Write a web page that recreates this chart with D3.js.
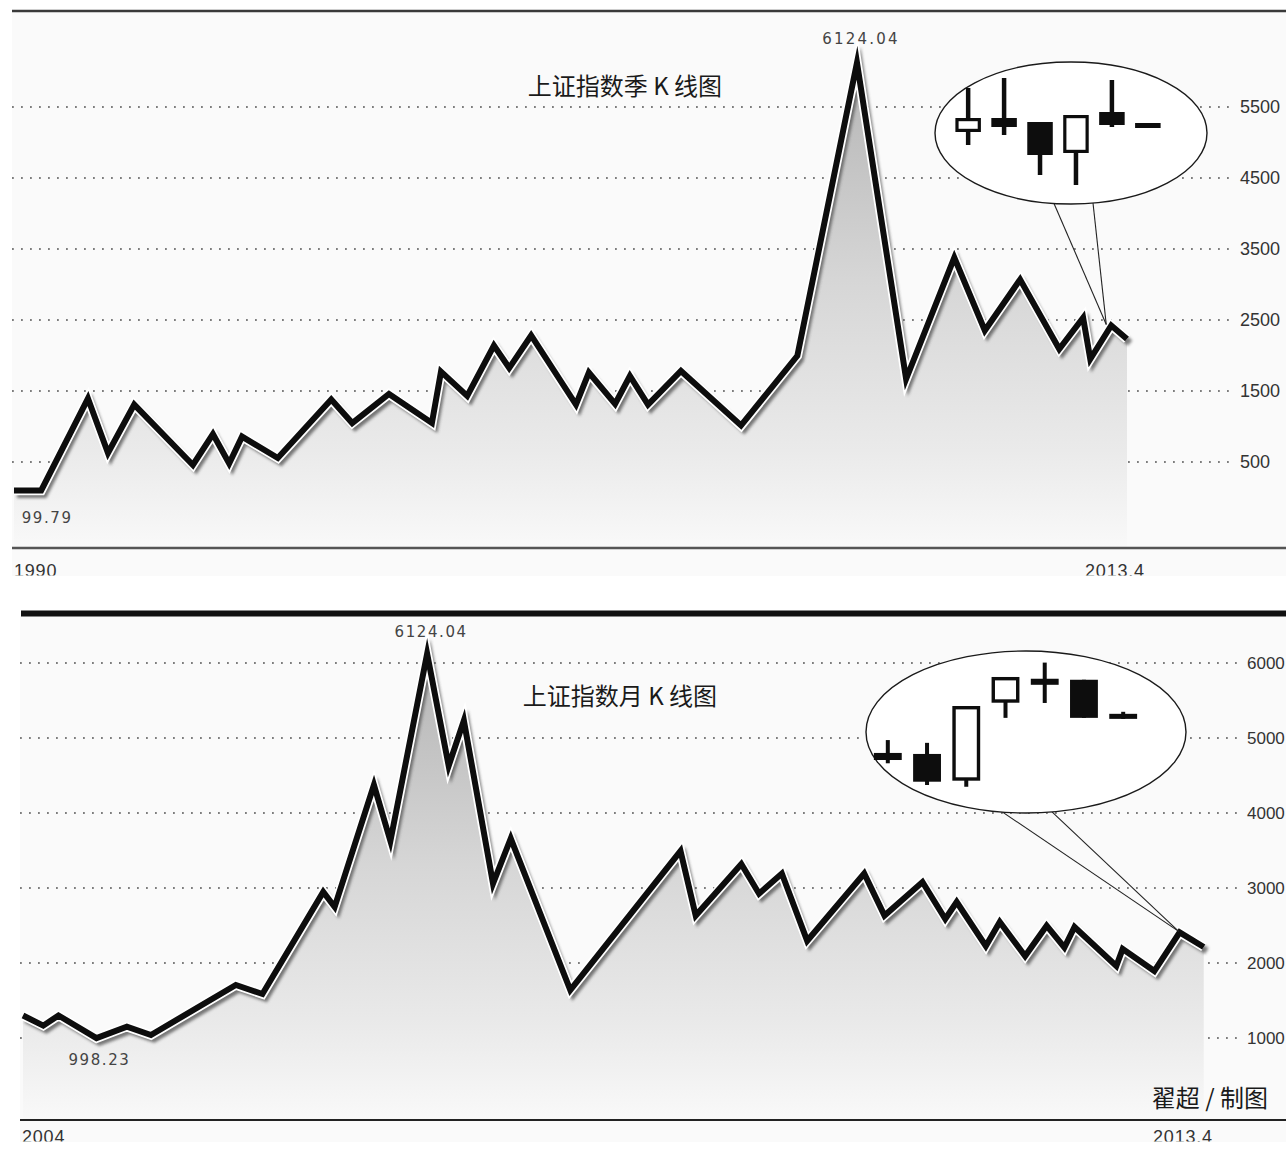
<!DOCTYPE html>
<html>
<head>
<meta charset="utf-8">
<script src="https://cdn.jsdelivr.net/npm/d3@7"></script>
<style>
  html, body { margin: 0; padding: 0; background: #ffffff; }
  svg { display: block; }
</style>
</head>
<body>
<svg id="chart" width="1286" height="1151"></svg>
<script>
// ---- Shanghai Composite, quarterly swing points (decimal year, index level) ----
const quarterYears = [1990.00, 1990.57, 1991.55, 1991.97, 1992.52, 1993.75, 1994.17, 1994.51, 1994.78, 1995.53,
                      1996.65, 1997.09, 1997.86, 1998.76, 1998.95, 1999.50, 2000.06, 2000.38, 2000.84, 2001.78,
                      2002.05, 2002.60, 2002.91, 2003.29, 2003.98, 2005.24, 2006.42, 2007.67, 2008.70, 2009.71,
                      2010.35, 2011.09, 2011.91, 2012.41, 2012.56, 2013.00, 2013.33];
const quarterClose = [100, 99.79, 1394, 627, 1308, 458, 894, 479, 858, 556,
                      1380, 1049, 1458, 1049, 1773, 1430, 2139, 1824, 2282, 1308,
                      1759, 1317, 1711, 1308, 1782, 1014, 1996, 6124.04, 1669, 3379,
                      2352, 3070, 2092, 2532, 1951, 2423, 2232];
const quarterTicks = [500, 1500, 2500, 3500, 4500, 5500];
const quarterAxisLabels = ["1990", "2013.4"];

// ---- Shanghai Composite, monthly swing points ----
const monthYears = [2004.00, 2004.16, 2004.28, 2004.58, 2004.82, 2005.01, 2005.68, 2005.89, 2006.37, 2006.46,
                    2006.77, 2006.90, 2007.19, 2007.36, 2007.48, 2007.71, 2007.85, 2008.32, 2009.19, 2009.31,
                    2009.67, 2009.81, 2009.99, 2010.19, 2010.64, 2010.80, 2011.10, 2011.28, 2011.37, 2011.60,
                    2011.71, 2011.91, 2012.08, 2012.22, 2012.30, 2012.63, 2012.68, 2012.93, 2013.13, 2013.32];
const monthClose = [1300, 1165, 1300, 998.23, 1151, 1040, 1707, 1587, 2947, 2747,
                    4373, 3627, 6124.04, 4629, 5232, 3059, 3660, 1640, 3493, 2632,
                    3320, 2924, 3193, 2296, 3193, 2632, 3080, 2587, 2813, 2227,
                    2547, 2093, 2497, 2207, 2480, 1960, 2187, 1893, 2408, 2213];
const monthTicks = [1000, 2000, 3000, 4000, 5000, 6000];
const monthAxisLabels = ["2004", "2013.4"];

// ---- Recent quarterly candles ----
const quarterCandleNames = ["2012Q1", "2012Q2", "2012Q3", "2012Q4", "2013Q1", "2013Q2"];
const quarterOpen  = [2190, 2260, 2240, 2085, 2290, 2235];
const quarterHigh  = [2410, 2460, 2240, 2275, 2450, 2235];
const quarterLow   = [2125, 2175, 1975, 1925, 2215, 2210];
const quarterShut  = [2260, 2215, 2075, 2275, 2225, 2210];

// ---- Recent monthly candles ----
const monthCandleNames = ["2012.10", "2012.11", "2012.12", "2013.01", "2013.02", "2013.03", "2013.04"];
const monthOpen  = [2083, 2079, 1973, 2282, 2377, 2373, 2238];
const monthHigh  = [2134, 2123, 2269, 2384, 2441, 2373, 2246];
const monthLow   = [2042, 1956, 1949, 2222, 2281, 2222, 2218];
const monthShut  = [2055, 1969, 2269, 2384, 2353, 2222, 2218];

const titles = ["上证指数季 K 线图", "上证指数月 K 线图"];
const credit = "翟超 / 制图";

const svg = d3.select("#chart");
const defs = svg.append("defs");

defs.append("filter").attr("id", "soft").attr("x", "-5%").attr("y", "-5%").attr("width", "110%").attr("height", "110%")
  .append("feGaussianBlur").attr("stdDeviation", 1.8);

function gradient(id, y1, y2) {
  const g = defs.append("linearGradient").attr("id", id)
    .attr("gradientUnits", "userSpaceOnUse")
    .attr("x1", 0).attr("x2", 0).attr("y1", y1).attr("y2", y2);
  g.append("stop").attr("offset", 0).attr("stop-color", "#b4b4b4");
  g.append("stop").attr("offset", 0.45).attr("stop-color", "#d6d6d6");
  g.append("stop").attr("offset", 0.8).attr("stop-color", "#eaeaea");
  g.append("stop").attr("offset", 1).attr("stop-color", "#f9f9f9");
}

const panels = [
  {
    id: "q", years: quarterYears, values: quarterClose, ticks: quarterTicks, axisLabels: quarterAxisLabels,
    title: titles[0], titleX: 625, titleY: 95,
    xDomain: [1990, 2013.33], xRange: [14, 1127],
    yDomain: [500, 5500], yRange: [462, 107],
    bg: [12, 12, 1274, 564], gridX: [12, 1232], tickLabelX: 1240, tickSize: 18,
    border: { y: 11, x0: 12, width: 2.5, color: "#3a3a3a" },
    axisY: 548, axisWidth: 2.5, axisColor: "#555",
    axisLabelY: 577, clipBottom: 575.5, axisLabelShift: [0, -12],
    gradTop: 60,
    peakLabel: { dy: -19, spacing: 2.2 }, lowLabel: { dx: 6, dy: 33, spacing: 1.6 },
    callout: {
      cx: 1071, cy: 133, rx: 136, ry: 71, tailX: [1054, 1093], tailIndex: 35, tipDx: -5, tipDy: -1,
      names: quarterCandleNames, open: quarterOpen, high: quarterHigh, low: quarterLow, close: quarterShut,
      band: [950, 1166], cyDomain: [1900, 2500], cyRange: [190, 70], wick: 4.5, border: 3.2
    }
  },
  {
    id: "m", years: monthYears, values: monthClose, ticks: monthTicks, axisLabels: monthAxisLabels,
    title: titles[1], titleX: 620, titleY: 705,
    xDomain: [2004, 2013.33], xRange: [23, 1205],
    yDomain: [1000, 6000], yRange: [1038, 663],
    bg: [20, 616, 1266, 526], gridX: [20, 1238], tickLabelX: 1247, tickSize: 17,
    border: { y: 613.5, x0: 21, width: 6, color: "#111" },
    axisY: 1120, axisWidth: 2, axisColor: "#222",
    axisLabelY: 1143, clipBottom: 1141.5, axisLabelShift: [-1, -22],
    gradTop: 655,
    peakLabel: { dy: -17, spacing: 1.6 }, lowLabel: { dx: 3, dy: 27, spacing: 1.6 },
    callout: {
      cx: 1026, cy: 732, rx: 160, ry: 81, tailX: [1002.6, 1052], tailIndex: 38, tipDx: -1, tipDy: -1,
      names: monthCandleNames, open: monthOpen, high: monthHigh, low: monthLow, close: monthShut,
      band: [868, 1143], cyDomain: [1973, 2269], cyRange: [780.7, 706], wick: 4, border: 3.4
    }
  }
];

panels.forEach(p => {
  const g = svg.append("g");
  const x = d3.scaleLinear().domain(p.xDomain).range(p.xRange);
  const y = d3.scaleLinear().domain(p.yDomain).range(p.yRange);
  const pts = p.years.map((t, i) => ({ t, v: p.values[i] }));

  // panel background
  g.append("rect").attr("x", p.bg[0]).attr("y", p.bg[1]).attr("width", p.bg[2]).attr("height", p.bg[3])
    .attr("fill", "#fafafa");

  // dotted horizontal gridlines
  g.selectAll("line.grid").data(p.ticks).join("line")
    .attr("class", "grid")
    .attr("x1", p.gridX[0]).attr("x2", p.gridX[1])
    .attr("y1", d => y(d)).attr("y2", d => y(d))
    .attr("stroke", "#7d7d7d").attr("stroke-width", 1.8)
    .attr("stroke-dasharray", "1.8 7.2");

  // right-hand value labels
  g.selectAll("text.tick").data(p.ticks).join("text")
    .attr("class", "tick")
    .attr("x", p.tickLabelX).attr("y", d => y(d) + 6)
    .attr("font-family", "Liberation Sans, Arial, sans-serif")
    .attr("font-size", p.tickSize)
    .attr("fill", "#333")
    .text(d => d);

  // shaded area under the index line
  gradient("grad-" + p.id, p.gradTop, p.axisY);
  const area = d3.area().x(d => x(d.t)).y0(p.axisY).y1(d => y(d.v));
  g.append("path").datum(pts).attr("d", area).attr("fill", `url(#grad-${p.id})`);

  const line = d3.line().x(d => x(d.t)).y(d => y(d.v));
  // drop shadow
  g.append("path").datum(pts).attr("d", line)
    .attr("transform", "translate(3,4)")
    .attr("fill", "none").attr("stroke", "#444").attr("stroke-width", 7)
    .attr("stroke-linejoin", "miter").attr("stroke-miterlimit", 6)
    .attr("opacity", 0.7).attr("filter", "url(#soft)");
  // white halo
  g.append("path").datum(pts).attr("d", line)
    .attr("fill", "none").attr("stroke", "#ffffff").attr("stroke-width", 9.5)
    .attr("stroke-linejoin", "miter").attr("stroke-miterlimit", 6);
  // main line
  g.append("path").datum(pts).attr("d", line)
    .attr("fill", "none").attr("stroke", "#0d0d0d").attr("stroke-width", 6)
    .attr("stroke-linejoin", "miter").attr("stroke-miterlimit", 6);

  // extreme value labels
  const peak = pts.reduce((a, b) => (b.v > a.v ? b : a));
  const low = pts.reduce((a, b) => (b.v < a.v ? b : a));
  g.append("text")
    .attr("x", x(peak.t) + 4).attr("y", y(peak.v) + p.peakLabel.dy)
    .attr("text-anchor", "middle")
    .attr("font-family", "DejaVu Sans, sans-serif").attr("font-size", 15)
    .attr("letter-spacing", p.peakLabel.spacing).attr("fill", "#444")
    .text(d3.format(".2f")(peak.v));
  g.append("text")
    .attr("x", x(low.t) + p.lowLabel.dx).attr("y", y(low.v) + p.lowLabel.dy)
    .attr("text-anchor", "middle")
    .attr("font-family", "DejaVu Sans, sans-serif").attr("font-size", 15)
    .attr("letter-spacing", p.lowLabel.spacing).attr("fill", "#444")
    .text(d3.format(".2f")(low.v));

  // top rule and baseline
  g.append("line").attr("x1", p.border.x0).attr("x2", 1286)
    .attr("y1", p.border.y).attr("y2", p.border.y)
    .attr("stroke", p.border.color).attr("stroke-width", p.border.width);
  g.append("line").attr("x1", p.bg[0]).attr("x2", 1286)
    .attr("y1", p.axisY).attr("y2", p.axisY)
    .attr("stroke", p.axisColor).attr("stroke-width", p.axisWidth);

  // time labels at both ends of the axis (cut off at the panel edge)
  defs.append("clipPath").attr("id", "clip-" + p.id)
    .append("rect").attr("x", 0).attr("y", p.axisY + 2).attr("width", 1286).attr("height", p.clipBottom - p.axisY - 2);
  const ends = [
    { label: p.axisLabels[0], x: x(p.xDomain[0]) + p.axisLabelShift[0], anchor: "start" },
    { label: p.axisLabels[1], x: x(p.xDomain[1]) + p.axisLabelShift[1], anchor: "middle" }
  ];
  g.append("g").attr("clip-path", `url(#clip-${p.id})`)
    .selectAll("text").data(ends).join("text")
    .attr("x", d => d.x).attr("y", p.axisLabelY)
    .attr("text-anchor", d => d.anchor)
    .attr("font-family", "Liberation Sans, Arial, sans-serif")
    .attr("font-size", 18).attr("letter-spacing", 0.8).attr("fill", "#333")
    .text(d => d.label);

  // title
  g.append("text").attr("x", p.titleX).attr("y", p.titleY)
    .attr("text-anchor", "middle")
    .attr("font-family", "Noto Sans CJK SC, sans-serif")
    .attr("font-size", 24).attr("fill", "#1a1a1a")
    .text(p.title);

  // callout balloon with the recent candlesticks
  const c = p.callout;
  const tip = pts[c.tailIndex];
  const tipX = x(tip.t) + c.tipDx, tipY = y(tip.v) + c.tipDy;
  const co = g.append("g");
  c.tailX.forEach(tx => {
    const ty = c.cy + c.ry * Math.sqrt(1 - Math.pow((tx - c.cx) / c.rx, 2));
    co.append("line").attr("x1", tx).attr("y1", ty).attr("x2", tipX).attr("y2", tipY)
      .attr("stroke", "#222").attr("stroke-width", 1.1);
  });
  co.append("ellipse").attr("cx", c.cx).attr("cy", c.cy).attr("rx", c.rx).attr("ry", c.ry)
    .attr("fill", "#ffffff").attr("stroke", "#1a1a1a").attr("stroke-width", 1.4);

  const bx = d3.scaleBand().domain(c.names).range(c.band).paddingInner(0.29).paddingOuter(0.15);
  const by = d3.scaleLinear().domain(c.cyDomain).range(c.cyRange);
  const candles = c.names.map((n, i) => ({ n, o: c.open[i], h: c.high[i], l: c.low[i], c: c.close[i] }));
  const cg = co.selectAll("g.candle").data(candles).join("g").attr("class", "candle");
  cg.append("line")
    .attr("x1", d => bx(d.n) + bx.bandwidth() / 2).attr("x2", d => bx(d.n) + bx.bandwidth() / 2)
    .attr("y1", d => by(d.h)).attr("y2", d => by(d.l))
    .attr("stroke", "#0d0d0d").attr("stroke-width", c.wick);
  cg.append("rect")
    .attr("x", d => bx(d.n) + (d.c > d.o ? c.border / 2 : 0))
    .attr("width", d => bx.bandwidth() - (d.c > d.o ? c.border : 0))
    .attr("y", d => by(Math.max(d.o, d.c)) + (d.c > d.o ? c.border / 2 : 0))
    .attr("height", d => Math.max(1, Math.abs(by(d.o) - by(d.c)) - (d.c > d.o ? c.border : 0)))
    .attr("fill", d => (d.c > d.o ? "#ffffff" : "#0d0d0d"))
    .attr("stroke", d => (d.c > d.o ? "#0d0d0d" : "none"))
    .attr("stroke-width", c.border);
});

// credit line
svg.append("text").attr("x", 1268).attr("y", 1107)
  .attr("text-anchor", "end")
  .attr("font-family", "Noto Sans CJK SC, sans-serif")
  .attr("font-size", 24).attr("fill", "#1a1a1a")
  .text(credit);
</script>
</body>
</html>
